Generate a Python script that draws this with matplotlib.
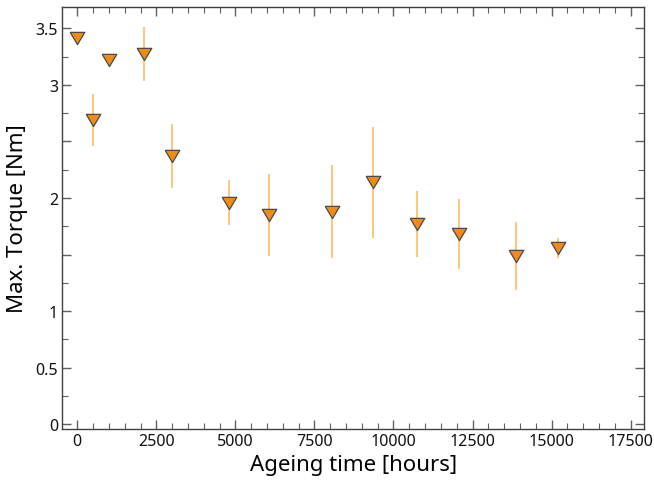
import matplotlib
matplotlib.use("Agg")
import matplotlib.pyplot as plt
from matplotlib.ticker import MultipleLocator

# ageing time [hours], max torque [Nm] and its error
hours = [0, 500, 1000, 2100, 3000, 4800, 6050, 8070, 9350, 10730, 12060, 13880, 15200]
torque = [3.41, 2.69, 3.22, 3.27, 2.37, 1.96, 1.85, 1.88, 2.14, 1.77, 1.68, 1.49, 1.56]
torque_err = [0.0, 0.23, 0.0, 0.24, 0.28, 0.20, 0.36, 0.41, 0.49, 0.29, 0.31, 0.30, 0.09]

y_ticks = [0, 0.5, 1, 1.5, 2, 2.5, 3, 3.5]
y_tick_labels = ["0", "0.5", "1", "", "2", "", "3", "3.5"]
x_ticks = [0, 2500, 5000, 7500, 10000, 12500, 15000, 17500]

# slightly flattened down-pointing triangle
tri_down = [(-1, 0.84), (1, 0.84), (0, -0.84), (-1, 0.84)]

plt.rcParams["font.family"] = ["Noto Sans", "DejaVu Sans"]

fig, ax = plt.subplots(figsize=(6.54, 4.89), dpi=100)
fig.subplots_adjust(left=0.095, right=0.985, bottom=0.12, top=0.984)

ax.errorbar(hours, torque, yerr=torque_err, fmt="none", ecolor="#fcb65c",
            elinewidth=1.1, capsize=0, zorder=2)
ax.plot(hours, torque, linestyle="none", marker=tri_down, markersize=10.5,
        markerfacecolor="#f28a16", markeredgecolor="#4a4a4a",
        markeredgewidth=0.9, zorder=3)

ax.set_xlim(-480, 17930)
ax.set_ylim(-0.045, 3.69)
ax.set_xticks(x_ticks)
ax.set_yticks(y_ticks)
ax.set_yticklabels(y_tick_labels)
ax.xaxis.set_minor_locator(MultipleLocator(500))
ax.yaxis.set_minor_locator(MultipleLocator(0.25))

ax.tick_params(which="both", direction="in", top=True, right=True,
               color="#606060", labelsize=11.5, labelcolor="#111111", pad=3)
ax.tick_params(which="major", length=6.5, width=1.0)
ax.tick_params(which="minor", length=4, width=0.8)
for spine in ax.spines.values():
    spine.set_color("#404040")
    spine.set_linewidth(1.0)

ax.set_xlabel("Ageing time [hours]", fontsize=16, labelpad=3)
ax.set_ylabel("Max. Torque [Nm]", fontsize=16, labelpad=5)

fig.savefig("out.png", dpi=100)
